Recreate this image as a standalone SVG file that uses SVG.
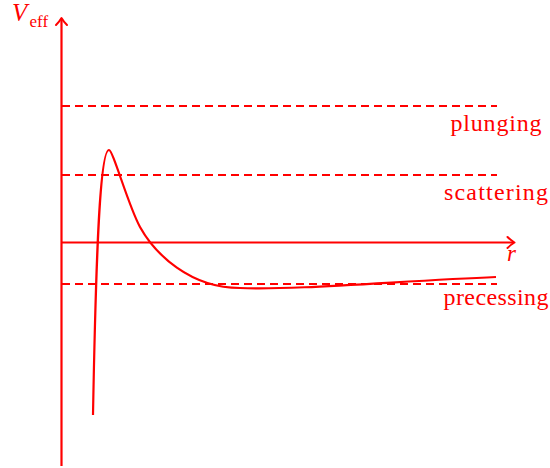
<svg xmlns="http://www.w3.org/2000/svg" width="550" height="468" viewBox="0 0 550 468">
<style>
.ln{fill:none;stroke:#ff0000;stroke-width:2.2}
.ar{fill:none;stroke:#ff0000;stroke-width:2;stroke-linecap:round;stroke-linejoin:round}
.dash{fill:none;stroke:#ff0000;stroke-width:2.2;stroke-dasharray:8 5}
.lbl{font-family:"Liberation Serif","Times New Roman",serif;font-size:24px;fill:#ff0000;text-anchor:middle}
.math{font-family:"Liberation Serif","Times New Roman",serif;fill:#ff0000;font-style:italic}
.sub{font-family:"Liberation Serif","Times New Roman",serif;fill:#ff0000;font-size:17px}
</style>
<rect width="550" height="468" fill="#ffffff"/>
<g id="axes">
<path class="ln" d="M61.5,466 L61.5,19"/>
<path class="ar" d="M56,25 Q59.5,21.5 61.5,18 Q63.5,21.5 67,25"/>
<path class="ln" d="M61.5,242.5 L513,242.5"/>
<path class="ar" d="M507.5,237 Q511,240.5 514.5,242.5 Q511,244.5 507.5,248"/>
<text class="math" x="12" y="21" font-size="25">V</text>
<text class="sub" x="29.5" y="27">eff</text>
<text class="math" x="507" y="261" font-size="23">r</text>
</g>
<g id="levels">
<path class="dash" d="M62,106 L497,106"/>
<path class="dash" d="M62,175 L497,175"/>
<path class="dash" d="M62,284 L497,284"/>
</g>
<g id="labels">
<text class="lbl" x="496" y="131" textLength="91" lengthAdjust="spacing">plunging</text>
<text class="lbl" x="496" y="200" textLength="104" lengthAdjust="spacing">scattering</text>
<text class="lbl" x="496" y="305" textLength="105" lengthAdjust="spacing">precessing</text>
</g>
<g id="curve">
<path class="ln" d="M93,415 C96,250 100,150 109,150 C113,150 128,205 140,227 C155,254 190,288 240,288 C290,290.5 400,281 496,277"/>
</g>
</svg>
